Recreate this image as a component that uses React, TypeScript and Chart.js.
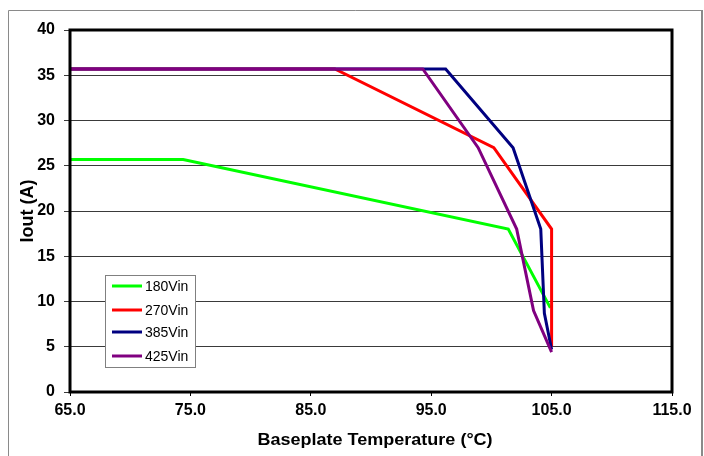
import React, { useEffect, useRef } from "react";
import { Chart, registerables } from "chart.js";

Chart.register(...registerables);

const FONT = "'Liberation Sans', Arial, sans-serif";

const seriesLabels = ["180Vin", "270Vin", "385Vin", "425Vin"];
const seriesColors = ["#00ff00", "#ff0000", "#000080", "#800080"];

const temp180 = [65, 74.4, 101.4, 104.9];
const iout180 = [25.7, 25.7, 18.0, 9.3];
const temp270 = [65, 87.0, 100.2, 105.0, 105.0];
const iout270 = [35.7, 35.7, 27.0, 18.0, 5.0];
const temp385 = [65, 96.2, 101.8, 104.1, 104.4, 105.0];
const iout385 = [35.7, 35.7, 27.0, 18.0, 8.7, 4.7];
const temp425 = [65, 94.3, 98.9, 102.1, 103.5, 105.0];
const iout425 = [35.7, 35.7, 27.0, 18.0, 9.0, 4.4];

const xTickValues = [65, 75, 85, 95, 105, 115];
const yTickValues = [0, 5, 10, 15, 20, 25, 30, 35, 40];

const xTitle = "Baseplate Temperature (°C)";
const yTitle = "Iout (A)";

const toPoints = (xs: number[], ys: number[]) => xs.map((x, i) => ({ x, y: ys[i] }));

const framePlugin = {
  id: "frame",
  afterDraw(chart: any) {
    const ctx = chart.ctx as CanvasRenderingContext2D;
    const a = chart.chartArea;
    ctx.save();
    // outer frame
    ctx.strokeStyle = "#8a8a8a";
    ctx.lineWidth = 1;
    ctx.beginPath();
    ctx.moveTo(8.5, 470);
    ctx.lineTo(8.5, 10.5);
    ctx.lineTo(702, 10.5);
    ctx.stroke();
    ctx.lineWidth = 2;
    ctx.beginPath();
    ctx.moveTo(702, 10);
    ctx.lineTo(702, 470);
    ctx.stroke();
    // plot border
    ctx.strokeStyle = "#000";
    ctx.lineWidth = 3;
    ctx.strokeRect(a.left, a.top, a.right - a.left, a.bottom - a.top);
    // axis titles
    ctx.fillStyle = "#000";
    ctx.textAlign = "center";
    ctx.textBaseline = "middle";
    ctx.save();
    ctx.translate(375, 440);
    ctx.scale(1.06, 1);
    ctx.font = `bold 17px ${FONT}`;
    ctx.fillText(xTitle, 0, 0);
    ctx.restore();
    ctx.save();
    ctx.translate(28, 211);
    ctx.rotate(-Math.PI / 2);
    ctx.font = `bold 18px ${FONT}`;
    ctx.fillText(yTitle, 0, 0);
    ctx.restore();
    // legend
    const lx = 105, ly = 275, lw = 90, lh = 92;
    ctx.fillStyle = "#fff";
    ctx.fillRect(lx, ly, lw, lh);
    ctx.strokeStyle = "#808080";
    ctx.lineWidth = 1;
    ctx.strokeRect(lx + 0.5, ly + 0.5, lw, lh);
    const rows = [286, 310, 332, 356];
    ctx.font = `14px ${FONT}`;
    ctx.textAlign = "left";
    chart.data.datasets.forEach((ds: any, i: number) => {
      const y = rows[i];
      ctx.strokeStyle = ds.borderColor;
      ctx.lineWidth = 3;
      ctx.beginPath();
      ctx.moveTo(112, y);
      ctx.lineTo(142, y);
      ctx.stroke();
      ctx.fillStyle = "#000";
      ctx.fillText(ds.label, 145, y + 1);
    });
    ctx.restore();
  },
};

export default function App() {
  const ref = useRef<HTMLCanvasElement | null>(null);
  useEffect(() => {
    if (!ref.current) return;
    const xs = [temp180, temp270, temp385, temp425];
    const ys = [iout180, iout270, iout385, iout425];
    const chart = new Chart(ref.current, {
      type: "line",
      data: {
        datasets: seriesLabels.map((label, i) => ({
          label,
          data: toPoints(xs[i], ys[i]),
          borderColor: seriesColors[i],
          backgroundColor: seriesColors[i],
          borderWidth: 3,
          pointRadius: 0,
          tension: 0,
          fill: false,
          order: 3 - i,
        })),
      },
      options: {
        responsive: false,
        animation: false,
        layout: { padding: { left: 0, top: 30, right: 32, bottom: 0 } },
        plugins: { legend: { display: false }, tooltip: { enabled: false } },
        scales: {
          x: {
            type: "linear",
            min: 65,
            max: 115,
            afterBuildTicks: (s: any) => {
              s.ticks = xTickValues.map((v) => ({ value: v }));
            },
            afterFit: (s: any) => {
              s.height = 64;
            },
            ticks: {
              callback: (v: any) => Number(v).toFixed(1),
              font: { family: FONT, size: 16, weight: "bold" },
              color: "#000",
              padding: 5,
              maxRotation: 0,
              autoSkip: false,
            },
            grid: { drawOnChartArea: false, drawTicks: true, tickLength: 4, color: "#000", lineWidth: 1 },
            border: { display: false },
          },
          y: {
            type: "linear",
            min: 0,
            max: 40,
            afterBuildTicks: (s: any) => {
              s.ticks = yTickValues.map((v) => ({ value: v }));
            },
            afterFit: (s: any) => {
              s.width = 70;
            },
            ticks: {
              font: { family: FONT, size: 16, weight: "bold" },
              color: "#000",
              padding: 9,
              autoSkip: false,
            },
            grid: { color: "#3a3a3a", lineWidth: 1, tickLength: 6 },
            border: { display: false },
          },
        },
      },
      plugins: [framePlugin],
    } as any);
    return () => chart.destroy();
  }, []);
  return (
    <div style={{ position: "fixed", left: 0, top: 0, width: 704, height: 456, background: "#fff" }}>
      <canvas ref={ref} width={704} height={456} style={{ display: "block" }} />
    </div>
  );
}
